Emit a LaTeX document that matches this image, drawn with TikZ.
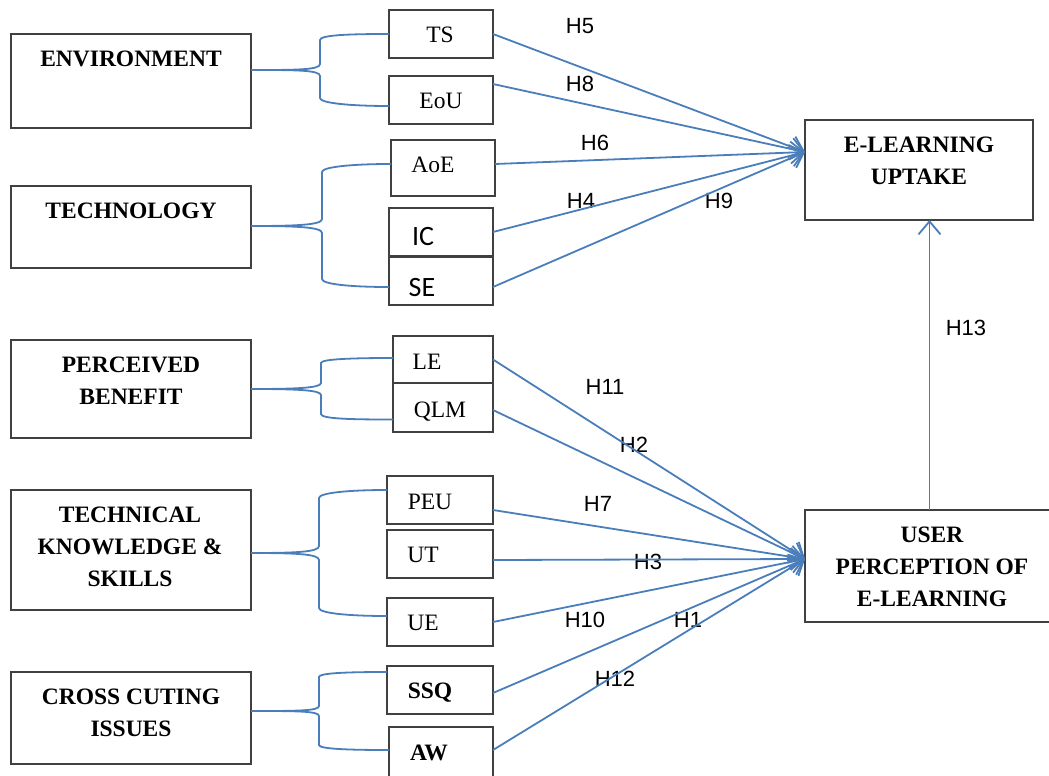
\documentclass[tikz,border=0pt]{standalone}
\usepackage{fontspec}
\setmainfont{Liberation Serif}
\newfontfamily\hfont{Liberation Sans}
\newfontfamily\cfont{Carlito}
\usetikzlibrary{arrows.meta,calc}
\definecolor{lnblue}{RGB}{74,126,187}
\definecolor{bxgray}{RGB}{64,64,64}
\newcommand\bx[5]{\node[box, minimum width={(#3-#1)*1pt}, minimum height={(#4-#2)*1pt}] (#5) at ({(#1+#3)/2},{(#2+#4)/2}) {};}
\begin{document}
\begin{tikzpicture}[x=1pt,y=-1pt,
  box/.style={draw=bxgray, line width=1.6pt, rectangle, inner sep=0pt, outer sep=0pt},
  big/.style={font=\fontsize{23.5}{32}\selectfont\bfseries, align=center, inner sep=0pt},
  small/.style={font=\fontsize{23.5}{28}\selectfont, inner sep=0pt, text depth=0pt},
  smallb/.style={small, font=\fontsize{23.5}{28}\selectfont\bfseries},
  cal/.style={font=\cfont\fontsize{28}{32}\selectfont, inner sep=0pt, text depth=0pt},
  hl/.style={font=\hfont\fontsize{22}{26}\selectfont, inner sep=0pt, text depth=0pt},
  conn/.style={draw=lnblue, line width=1.8pt},
  arr/.style={conn, -{Straight Barb[length=13pt,width=22pt]}},
]
\useasboundingbox (0,0) rectangle (1049,776);
\clip (0,0) rectangle (1049,776);

% left boxes
\bx{11}{34}{251}{128}{env}
\bx{11}{186}{251}{268}{tech}
\bx{11}{340}{251}{438}{pb}
\bx{11}{490}{251}{610}{tk}
\bx{11}{672}{251}{764}{cc}
% middle boxes
\bx{389}{10}{493}{58}{TS}
\bx{389}{76}{493}{124}{EoU}
\bx{391}{140}{495}{196}{AoE}
\bx{389}{208}{493}{256}{IC}
\bx{389}{257}{493}{305}{SE}
\bx{393}{336}{493}{383}{LE}
\bx{393}{383}{493}{432}{QLM}
\bx{387}{476}{493}{524}{PEU}
\bx{387}{530}{493}{578}{UT}
\bx{387}{598}{493}{646}{UE}
\bx{387}{666}{493}{714}{SSQ}
\bx{389}{727}{493}{790}{AW}
% right boxes
\bx{805}{120}{1033}{220}{elu}
\bx{805}{510}{1054}{622}{upl}

% texts
\node[big] (envT) at (131,59) {ENVIRONMENT};
\node[big] (techT) at (131,211) {TECHNOLOGY};
\node[big] (pbT) at (131,381) {PERCEIVED\\BENEFIT};
\node[big] (tkT) at (130,546.5) {TECHNICAL\\KNOWLEDGE \&\\SKILLS};
\node[big] (ccT) at (131,712.5) {CROSS CUTING\\ISSUES};
\node[big] (eluT) at (919,161) {E-LEARNING\\UPTAKE};
\node[big] (uplT) at (932,566.5) {USER\\PERCEPTION OF\\E-LEARNING};

\node[small] (TSt) at (440,35) {TS};
\node[small] (EoUt) at (441,101) {EoU};
\node[small] (AoEt) at (433,165) {AoE};
\node[cal] (ICt) at (423,236) {IC};
\node[cal] (SEt) at (422,287) {SE};
\node[small] (LEt) at (427,362) {LE};
\node[small] (QLMt) at (440,410) {QLM};
\node[small] (PEUt) at (430,502) {PEU};
\node[small] (UTt) at (423,555) {UT};
\node[small] (UEt) at (423,623) {UE};
\node[smallb] (SSQt) at (430,691) {SSQ};
\node[smallb] (AWt) at (429,753) {AW};

% hypothesis labels
\node[hl] (h5) at (580,26) {H5};
\node[hl] (h8) at (580,84) {H8};
\node[hl] (h6) at (595,143) {H6};
\node[hl] (h4) at (581,201) {H4};
\node[hl] (h9) at (719,201) {H9};
\node[hl] (h13) at (966,328) {H13};
\node[hl] (h11) at (605,387) {H11};
\node[hl] (h2) at (634,445) {H2};
\node[hl] (h7) at (598,504) {H7};
\node[hl] (h3) at (648,562) {H3};
\node[hl] (h10) at (585,620) {H10};
\node[hl] (h1) at (688,620) {H1};
\node[hl] (h12) at (615,679) {H12};

% brackets
\draw[conn] ($(env.east)+(0,-11)$) .. controls +(45,0) and +(0,6) .. (320,64) -- (320,40) .. controls +(0,-5) and +(-40,0) .. (TS.west);
\draw[conn] ($(env.east)+(0,-11)$) .. controls +(45,0) and +(0,-6) .. (320,76) -- (320,98) .. controls +(0,5) and +(-40,0) .. ($(EoU.west)+(0,6)$);

\draw[conn] ($(tech.east)+(0,-1)$) .. controls +(45,0) and +(0,6) .. (322,219) -- (322,172) .. controls +(0,-5) and +(-40,0) .. ($(AoE.west)+(0,-4)$);
\draw[conn] ($(tech.east)+(0,-1)$) .. controls +(45,0) and +(0,-6) .. (322,233) -- (322,279) .. controls +(0,5) and +(-40,0) .. ($(SE.west)+(0,6)$);

\draw[conn] (pb.east) .. controls +(45,0) and +(0,5) .. (321,383) -- (321,363) .. controls +(0,-4) and +(-40,0) .. ($(LE.west)+(0,-1.5)$);
\draw[conn] (pb.east) .. controls +(45,0) and +(0,-5) .. (321,395) -- (321,414) .. controls +(0,5) and +(-40,0) .. ($(QLM.west)+(0,12)$);

\draw[conn] ($(tk.east)+(0,3)$) .. controls +(45,0) and +(0,6) .. (319,546) -- (319,498) .. controls +(0,-5) and +(-40,0) .. ($(PEU.west)+(0,-10)$);
\draw[conn] ($(tk.east)+(0,3)$) .. controls +(45,0) and +(0,-6) .. (319,560) -- (319,608) .. controls +(0,5) and +(-40,0) .. ($(UE.west)+(0,-6)$);

\draw[conn] ($(cc.east)+(0,-7)$) .. controls +(45,0) and +(0,5) .. (319,706) -- (319,677) .. controls +(0,-4) and +(-40,0) .. ($(SSQ.west)+(0,-18)$);
\draw[conn] ($(cc.east)+(0,-7)$) .. controls +(45,0) and +(0,-5) .. (319,716) -- (319,745) .. controls +(0,4) and +(-40,0) .. ($(AW.north west)+(0,23)$);

% arrows to E-LEARNING UPTAKE
\coordinate (eluIn) at ($(elu.west)+(0,-18)$);
\draw[arr] (TS.east) -- (eluIn);
\draw[arr] ($(EoU.east)+(0,-16)$) -- (eluIn);
\draw[arr] ($(AoE.east)+(0,-4)$) -- (eluIn);
\draw[arr] (IC.east) -- (eluIn);
\draw[arr] ($(SE.east)+(0,6)$) -- (eluIn);

% arrows to USER PERCEPTION
\coordinate (uplIn) at ($(upl.west)+(0,-7)$);
\draw[arr] (LE.east) -- (uplIn);
\draw[arr] ($(QLM.east)+(0,2.5)$) -- (uplIn);
\draw[arr] ($(PEU.east)+(0,10)$) -- (uplIn);
\draw[arr] ($(UT.east)+(0,6)$) -- (uplIn);
\draw[arr] (UE.east) -- (uplIn);
\draw[arr] ($(SSQ.east)+(0,3)$) -- (uplIn);
\draw[arr] ($(AW.north east)+(0,23)$) -- (uplIn);

% H13
\draw[arr] (upl.north) -- (upl.north |- elu.south);
\end{tikzpicture}
\end{document}
